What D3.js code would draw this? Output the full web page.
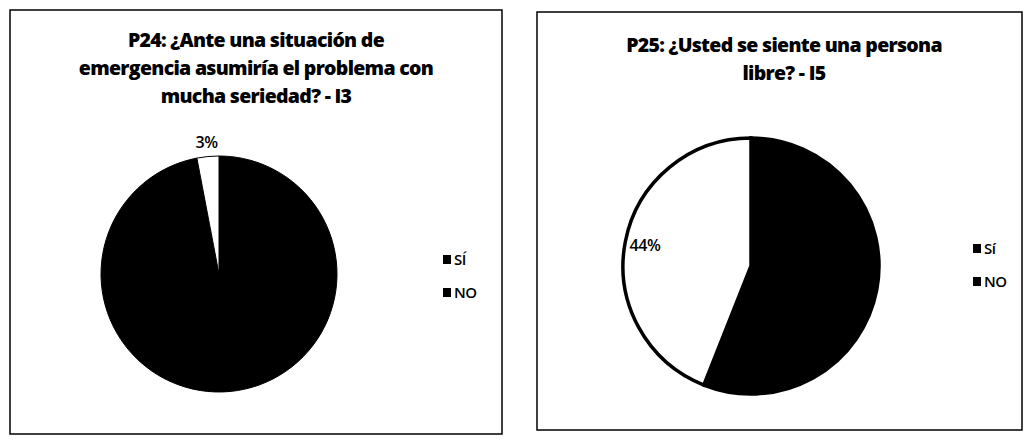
<!DOCTYPE html>
<html>
<head>
<meta charset="utf-8">
<script src="https://cdn.jsdelivr.net/npm/d3@7"></script>
<style>
  body { margin: 0; background: #fff; }
  svg { display: block; }
  text { font-family: "Open Sans", "Liberation Sans", sans-serif; }
</style>
</head>
<body>
<svg width="1025" height="441"></svg>
<script>
// chart data
var p24Categories = ["SÍ", "NO"];
var p24Values = [97, 3];
var p24Title = ["P24: ¿Ante una situación de", "emergencia asumiría el problema con", "mucha seriedad? - I3"];

var p25Categories = ["Sí", "NO"];
var p25Values = [56, 44];
var p25Title = ["P25: ¿Usted se siente una persona", "libre? - I5"];

var sliceColors = ["#000", "#fff"];

var svg = d3.select("svg");

function drawPanel(opt) {
    var g = svg.append("g");

    // frame
    g.append("rect")
        .attr("x", opt.frame[0]).attr("y", opt.frame[1])
        .attr("width", opt.frame[2]).attr("height", opt.frame[3])
        .attr("fill", "none").attr("stroke", "#000").attr("stroke-width", 1.5);

    // title
    var title = g.append("text")
        .attr("text-anchor", "middle")
        .attr("font-weight", 800)
        .attr("font-size", 19.5)
        .attr("letter-spacing", -0.7);
    title.selectAll("tspan")
        .data(opt.title)
        .enter().append("tspan")
        .attr("x", opt.titleX)
        .attr("y", function(d, i) { return opt.titleY + i * 28; })
        .text(function(d) { return d; });

    var pie = d3.pie().sort(null).value(function(d) { return d; });
    var arcs = pie(opt.values);
    var arc = d3.arc().innerRadius(0).outerRadius(opt.r);

    var pg = g.append("g").attr("transform", "translate(" + opt.cx + "," + opt.cy + ")");
    pg.selectAll("path")
        .data(arcs)
        .enter().append("path")
        .attr("d", arc)
        .attr("fill", function(d, i) { return sliceColors[i]; })
        .attr("stroke", "#000")
        .attr("stroke-width", opt.stroke);

    // data label for the NO slice
    var labelArc = d3.arc().innerRadius(opt.labelR).outerRadius(opt.labelR);
    var total = d3.sum(opt.values);
    pg.append("text")
        .datum(arcs[1])
        .attr("transform", function(d) { return "translate(" + labelArc.centroid(d) + ")"; })
        .attr("text-anchor", "middle")
        .attr("dy", "0.35em")
        .attr("font-size", 16)
        .attr("font-weight", 600)
        .attr("letter-spacing", -0.5)
        .attr("fill", "#000")
        .text(function(d) { return Math.round(d.value / total * 100) + "%"; });

    // legend
    var lg = g.append("g").attr("transform", "translate(" + opt.legend[0] + "," + opt.legend[1] + ")");
    var item = lg.selectAll("g")
        .data(opt.categories)
        .enter().append("g")
        .attr("transform", function(d, i) { return "translate(0," + i * 33 + ")"; });
    item.append("rect")
        .attr("x", 0).attr("y", -5)
        .attr("width", 8).attr("height", 9)
        .attr("fill", "#000");
    item.append("text")
        .attr("x", 11)
        .attr("dy", "0.35em")
        .attr("font-size", 15)
        .attr("font-weight", 600)
        .attr("letter-spacing", -0.6)
        .text(function(d) { return d; });
}

drawPanel({
    frame: [10, 10, 492, 424],
    title: p24Title, titleX: 256, titleY: 47,
    values: p24Values, categories: p24Categories,
    cx: 219, cy: 274, r: 118, stroke: 1,
    labelR: 132,
    legend: [443, 260]
});

drawPanel({
    frame: [537, 12, 485, 418],
    title: p25Title, titleX: 784, titleY: 52,
    values: p25Values, categories: p25Categories,
    cx: 751, cy: 266, r: 128, stroke: 3.5,
    labelR: 108,
    legend: [973, 249]
});
</script>
</body>
</html>
